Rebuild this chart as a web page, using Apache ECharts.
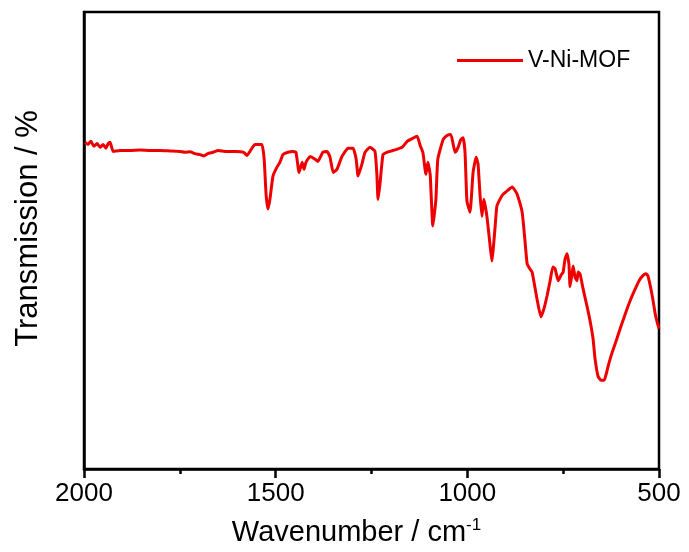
<!DOCTYPE html>
<html>
<head>
<meta charset="utf-8">
<script src="https://cdn.jsdelivr.net/npm/echarts@6/dist/echarts.min.js"></script>
<style>html,body{margin:0;padding:0;background:#fff}#c{width:689px;height:552px}</style>
</head>
<body>
<div id="c"></div>
<script>
const seriesName = 'V-Ni-MOF';
const xTicks = [2000, 1500, 1000, 500];
const wavenumber = [1997,1990,1982,1974,1966,1958,1950,1943,1937,1932,1924,1906,1880,1854,1828,1802,1776,1750,1737,1723,1710,1697,1687,1677,1663,1650,1632,1606,1583,1575,1567,1554,1536,1530,1525,1520,1515,1507,1497,1489,1481,1468,1455,1447,1439,1431,1426,1421,1410,1397,1390,1377,1366,1358,1350,1340,1327,1311,1298,1290,1285,1275,1267,1254,1241,1236,1233,1228,1220,1210,1194,1170,1157,1144,1131,1123,1116,1108,1103,1097,1095,1090,1082,1077,1063,1053,1043,1032,1024,1017,1011,1006,1001,993,985,977,972,967,962,957,949,941,936,928,923,915,907,897,883,876,870,857,850,844,837,831,823,816,808,800,792,784,777,771,763,755,750,745,740,735,732,727,724,719,714,711,706,698,688,680,672,667,659,651,643,638,633,623,610,597,583,573,562,552,542,534,529,521,515,510,505,500];
const transmission = [71.5,71.0,71.7,70.6,71.2,70.4,71.0,70.2,71.2,71.5,69.5,69.7,69.7,69.8,69.7,69.7,69.6,69.5,69.3,69.4,69.0,68.8,68.5,69.0,69.3,69.7,69.5,69.5,69.3,68.6,69.5,71.0,71.0,67.8,60.1,56.9,59.0,64.1,66.0,67.1,68.8,69.3,69.5,69.3,64.9,67.1,65.6,67.1,68.4,67.8,67.3,69.3,69.5,68.2,64.9,65.6,68.4,70.2,70.2,67.8,64.1,66.7,69.3,70.4,69.5,64.5,59.0,62.3,68.8,69.3,69.7,70.4,71.7,72.3,72.8,70.8,69.3,64.5,67.1,64.5,61.2,53.2,59.0,67.8,72.1,73.0,73.2,69.3,70.4,72.1,72.5,69.3,58.6,56.2,64.9,68.2,66.7,60.1,55.3,59.0,55.3,49.2,45.5,52.5,57.5,59.0,60.1,60.8,61.7,61.0,60.1,56.2,50.3,44.9,43.8,43.1,39.4,36.2,33.3,35.1,37.9,41.2,44.2,43.8,41.2,42.5,43.1,46.0,47.1,44.9,39.9,42.7,44.4,42.0,41.2,43.1,42.7,39.4,35.7,32.5,28.5,24.2,20.3,19.4,19.4,20.7,22.4,25.3,28.5,31.8,35.1,37.3,39.4,41.2,42.3,42.7,42.3,39.4,36.6,34.0,32.2,30.7];

const data = wavenumber.map((w, i) => [w, transmission[i]]);
const FONT = 'Liberation Sans, Arial, sans-serif';
const RED = '#ee0000';
const chart = echarts.init(document.getElementById('c'), null, {renderer: 'canvas'});
chart.setOption({
  animation: false,
  backgroundColor: '#fff',
  grid: {left: 84, right: 30, top: 12, bottom: 81, show: true, borderColor: '#000', borderWidth: 2.5, backgroundColor: 'transparent'},
  legend: {
    data: [{name: seriesName, icon: 'rect', itemStyle: {color: RED}}],
    left: 452, top: 44, itemWidth: 66, itemHeight: 3, itemGap: 6,
    textStyle: {fontFamily: FONT, fontSize: 23, color: '#000'}
  },
  xAxis: {
    type: 'value', inverse: true, min: xTicks[3], max: xTicks[0], interval: 500,
    name: 'Wavenumber / cm{sup|-1}', nameLocation: 'middle', nameGap: 48,
    nameTextStyle: {fontFamily: FONT, fontSize: 29, color: '#000', padding: [0, 30, 0, 0],
      rich: {sup: {fontFamily: FONT, fontSize: 17, color: '#000', verticalAlign: 'top', padding: [0, 0, 14, 0]}}},
    axisLine: {show: true, lineStyle: {color: '#000', width: 2.5}},
    axisTick: {show: true, inside: false, length: 9, lineStyle: {color: '#000', width: 2.5}},
    minorTick: {show: true, splitNumber: 2, length: 5, lineStyle: {color: '#000', width: 2.5}},
    axisLabel: {fontFamily: FONT, fontSize: 26, color: '#000', margin: 12, formatter: v => String(v)},
    splitLine: {show: false}
  },
  yAxis: {
    type: 'value', min: 0, max: 100,
    name: 'Transmission / %', nameLocation: 'middle', nameGap: 40,
    nameTextStyle: {fontFamily: FONT, fontSize: 31, color: '#000', padding: [0, 0, 0, 24]},
    axisLine: {show: true, lineStyle: {color: '#000', width: 2.5}},
    axisTick: {show: false}, axisLabel: {show: false}, splitLine: {show: false}
  },
  series: [{
    name: seriesName, type: 'line', data: data, symbol: 'none', smooth: 0.15,
    lineStyle: {color: RED, width: 3}, itemStyle: {color: RED}
  }]
});
</script>
</body>
</html>
